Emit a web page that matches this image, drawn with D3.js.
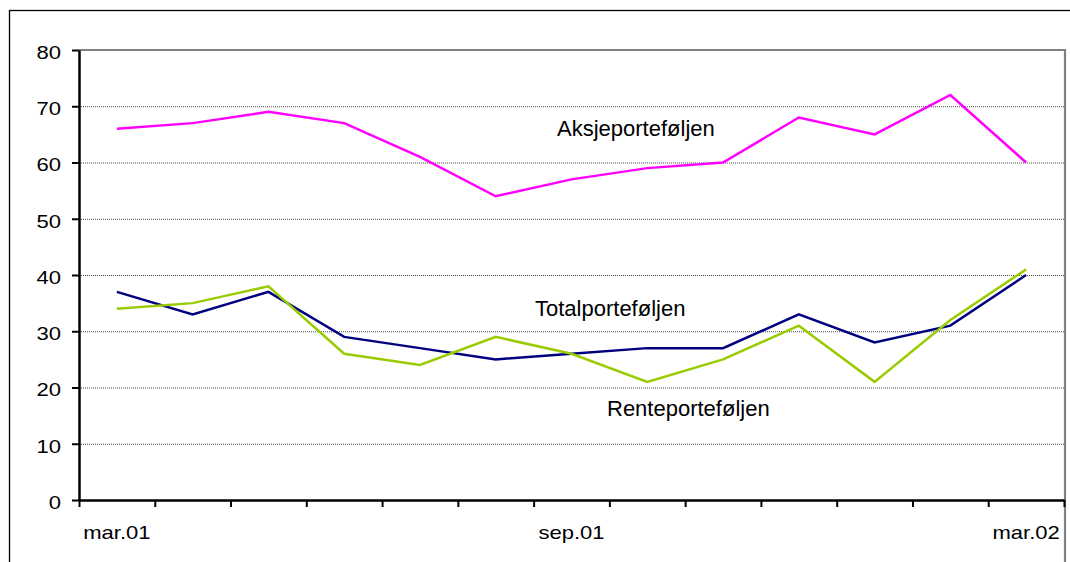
<!DOCTYPE html>
<html>
<head>
<meta charset="utf-8">
<script src="https://cdn.jsdelivr.net/npm/d3@7"></script>
<style>
  html, body { margin: 0; padding: 0; background: #fff; }
  svg { display: block; font-family: Arial, "Liberation Sans", sans-serif; }
</style>
</head>
<body>
<svg id="chart" width="1070" height="562"></svg>
<script>
// ---- data ----
const categories = ["mar.01","apr.01","mai.01","jun.01","jul.01","aug.01","sep.01",
                    "okt.01","nov.01","des.01","jan.02","feb.02","mar.02"];
const aksje = [66, 67, 69, 67, 61, 54, 57, 59, 60, 68, 65, 72, 60];
const total = [37, 33, 37, 29, 27, 25, 26, 27, 27, 33, 28, 31, 40];
const rente = [34, 35, 38, 26, 24, 29, 26, 21, 25, 31, 21, 32, 41];
const yTicks = [0, 10, 20, 30, 40, 50, 60, 70, 80];
const xLabels = ["mar.01", "sep.01", "mar.02"];
const seriesNames = ["Aksjeporteføljen", "Totalporteføljen", "Renteporteføljen"];
const seriesColors = ["#FF00FF", "#000080", "#99CC00"];

// ---- layout ----
const plotL = 79, plotR = 1064, plotT = 50, plotB = 500;
const stretch = 1.16;

const svg = d3.select("#chart");

// outer frame
svg.append("rect").attr("x", 9.5).attr("y", 10.5).attr("width", 1200).attr("height", 700)
  .attr("fill", "none").attr("stroke", "#000").attr("stroke-width", 1.3);

const x = d3.scaleBand().domain(categories).range([plotL, plotR]);
const xEdge = d3.scaleLinear().domain([0, categories.length]).range([plotL, plotR]);
const y = d3.scaleLinear().domain([0, 80]).range([plotB, plotT]);

// gridlines
svg.append("g").selectAll("line")
  .data(yTicks.filter(d => d > 0 && d < 80))
  .join("line")
  .attr("x1", plotL).attr("x2", plotR)
  .attr("y1", d => y(d) + 0.5).attr("y2", d => y(d) + 0.5)
  .attr("stroke", "#444").attr("stroke-width", 1).attr("stroke-dasharray", "1,1");

// plot-area top & right border (gray)
svg.append("line").attr("x1", plotL).attr("x2", plotR + 1).attr("y1", y(80)).attr("y2", y(80))
  .attr("stroke", "#808080").attr("stroke-width", 2.2);
svg.append("line").attr("x1", plotR + 1).attr("x2", plotR + 1).attr("y1", y(80) - 1).attr("y2", 562)
  .attr("stroke", "#808080").attr("stroke-width", 2.2);

// lines
const lineGen = d3.line()
  .x((d, i) => x(categories[i]) + x.bandwidth() / 2)
  .y(d => y(d));
[aksje, total, rente].forEach((s, k) => {
  svg.append("path").datum(s)
    .attr("fill", "none")
    .attr("stroke", seriesColors[k])
    .attr("stroke-width", 2.5)
    .attr("stroke-linejoin", "miter")
    .attr("d", lineGen);
});

// y axis
const yAxis = svg.append("g").attr("transform", `translate(${plotL},0)`)
  .call(d3.axisLeft(y).tickValues(yTicks).tickSize(7).tickSizeOuter(0).tickFormat(d3.format("d")));
yAxis.select(".domain").attr("stroke", "#000").attr("stroke-width", 2.5);
yAxis.selectAll(".tick line").attr("stroke", "#000").attr("stroke-width", 2);
yAxis.selectAll(".tick text")
  .attr("x", -18 / stretch).attr("dy", "0.44em")
  .attr("transform", `scale(${stretch},1)`)
  .style("font-size", "19px").style("font-family", "Arial, 'Liberation Sans', sans-serif")
  .attr("fill", "#000");

// x axis tick marks at category edges
const xTickAxis = svg.append("g").attr("transform", `translate(0,${plotB})`)
  .call(d3.axisBottom(xEdge).tickValues(d3.range(categories.length + 1)).tickSize(7).tickSizeOuter(0).tickFormat(""));
xTickAxis.select(".domain").attr("stroke", "#000").attr("stroke-width", 2.5);
xTickAxis.selectAll(".tick line").attr("stroke", "#000").attr("stroke-width", 2);

// x axis labels
const xLabelAxis = svg.append("g").attr("transform", `translate(0,${plotB})`)
  .call(d3.axisBottom(x).tickValues(xLabels).tickSize(0));
xLabelAxis.select(".domain").remove();
xLabelAxis.selectAll(".tick text")
  .attr("y", 39).attr("dy", 0)
  .attr("transform", `scale(${stretch},1)`)
  .style("font-size", "19px").style("font-family", "Arial, 'Liberation Sans', sans-serif")
  .attr("fill", "#000");

// series labels
const labelPos = [[557, 136], [535, 316], [607, 416]];
seriesNames.forEach((n, k) => {
  svg.append("text").attr("x", labelPos[k][0]).attr("y", labelPos[k][1])
    .attr("font-size", 22).attr("fill", "#000").text(n);
});
</script>
</body>
</html>
